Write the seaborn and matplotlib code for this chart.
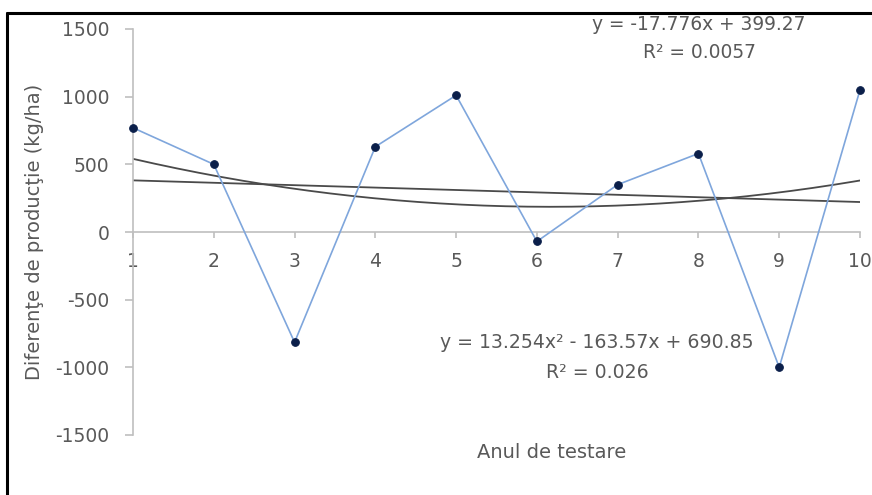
import numpy as np
import pandas as pd
import matplotlib
matplotlib.use("Agg")
import matplotlib.pyplot as plt
from matplotlib.lines import Line2D
import seaborn as sns

# Yield differences per test year
years = [1, 2, 3, 4, 5, 6, 7, 8, 9, 10]
diffs = [770, 500, -815, 630, 1010, -70, 350, 580, -1000, 1050]

# Trend-line coefficients (highest power first)
lin_coef = [-17.776, 399.27]
poly_coef = [13.254, -163.57, 690.85]
lin_label = ["y = -17.776x + 399.27", "R² = 0.0057"]
poly_label = ["y = 13.254x² - 163.57x + 690.85", "R² = 0.026"]

y_ticks = [-1500, -1000, -500, 0, 500, 1000, 1500]

sns.set_style("white")
plt.rcParams["font.family"] = ["DejaVu Sans"]
plt.rcParams["axes.unicode_minus"] = False

fig = plt.figure(figsize=(8.72, 4.95), dpi=100)
ax = fig.add_axes([133 / 872, 60 / 495, 727 / 872, 406 / 495])

df = pd.DataFrame({"year": years, "diff": diffs})
xs = np.linspace(years[0], years[-1], 200)
trend = pd.DataFrame({
    "x": np.concatenate([xs, xs]),
    "y": np.concatenate([np.polyval(lin_coef, xs), np.polyval(poly_coef, xs)]),
    "fit": ["lin"] * len(xs) + ["poly"] * len(xs),
})

sns.lineplot(data=trend, x="x", y="y", units="fit", estimator=None,
             color="#4a4a4a", linewidth=1.3, ax=ax)
sns.lineplot(data=df, x="year", y="diff", color="#7fa6dc", linewidth=1.2,
             marker="o", markersize=5.5, markerfacecolor="#0b1f4a",
             markeredgecolor="#0b1f4a", ax=ax, clip_on=False, zorder=5)

ax.set_xlim(1, 10)
ax.set_ylim(-1500, 1500)
ax.set_xticks(years)
ax.set_yticks(y_ticks)

grey = "#bfbfbf"
for s in ["top", "right"]:
    ax.spines[s].set_visible(False)
ax.spines["left"].set_color(grey)
ax.spines["left"].set_linewidth(1.2)
ax.spines["bottom"].set_position(("data", 0))
ax.spines["bottom"].set_color(grey)
ax.spines["bottom"].set_linewidth(1.2)

ax.tick_params(axis="y", direction="out", length=6, width=1.2, color=grey,
               pad=11, labelsize=13.5, labelcolor="#595959", left=True)
ax.tick_params(axis="x", direction="out", length=4.5, width=1.2, color=grey,
               pad=10, labelsize=13.5, labelcolor="#595959", bottom=True)

ax.set_xlabel("")
ax.set_ylabel("")

txt = dict(ha="center", va="center", color="#595959")
fig.text(35 / 872, 1 - 232 / 495, "Diferenţe de producţie (kg/ha)", rotation=90,
         fontsize=14, **txt)
fig.text(552 / 872, 1 - 453 / 495, "Anul de testare", fontsize=14, **txt)
fig.text(699 / 872, 1 - 25 / 495, lin_label[0], fontsize=13.4, **txt)
fig.text(699 / 872, 1 - 53 / 495, lin_label[1], fontsize=13.4, **txt)
fig.text(597 / 872, 1 - 343 / 495, poly_label[0], fontsize=13.6, **txt)
fig.text(597 / 872, 1 - 372 / 495, poly_label[1], fontsize=13.6, **txt)

# outer frame around the chart area
fig.add_artist(Line2D([7 / 872, 7 / 872], [0, 1 - 13 / 495], color="black",
                      linewidth=2.2, transform=fig.transFigure))
fig.add_artist(Line2D([7 / 872, 1], [1 - 13 / 495, 1 - 13 / 495], color="black",
                      linewidth=2.2, transform=fig.transFigure))

fig.savefig("out.png", dpi=100, facecolor="white")
